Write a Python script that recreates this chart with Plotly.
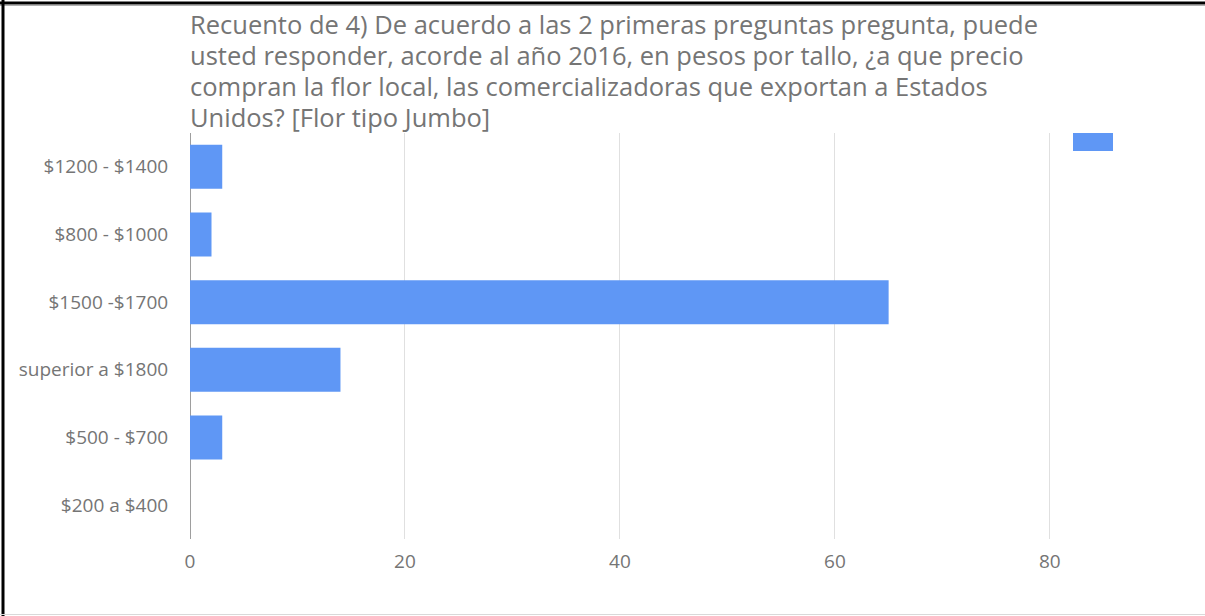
import plotly.graph_objects as go

# Survey answer counts per price range (pesos per stem)
categories = [
    "$1200 - $1400",
    "$800 - $1000",
    "$1500 -$1700",
    "superior a $1800",
    "$500 - $700",
    "$200 a $400",
]
counts = [3, 2, 65, 14, 3, 0]
x_ticks = [0, 20, 40, 60, 80]

title_lines = [
    "Recuento de 4) De acuerdo a las 2 primeras preguntas pregunta, puede",
    "usted responder, acorde al año 2016, en pesos por tallo, ¿a que precio",
    "compran la flor local, las comercializadoras que exportan a Estados",
    "Unidos? [Flor tipo Jumbo]",
]

W, H = 1205, 616
L, R, T, B = 190, 153, 133, 77
PW, PH = W - L - R, H - T - B

BLUE = "#5f97f5"
TEXT = "#757575"
FONT = "Open Sans, Roboto, Arial, sans-serif"


def px_x(px):
    return (px - L) / PW


def px_y(py):
    return (H - B - py) / PH


fig = go.Figure(
    go.Bar(
        x=counts,
        y=categories,
        orientation="h",
        marker=dict(color=BLUE, line=dict(width=0)),
        name="Recuento",
        showlegend=False,
    )
)

annotations = []
for i, line in enumerate(title_lines):
    annotations.append(
        dict(
            text=line,
            xref="paper",
            yref="paper",
            x=px_x(188),
            y=px_y(24 + i * 31),
            xanchor="left",
            yanchor="middle",
            showarrow=False,
            font=dict(family=FONT, size=25.5, color=TEXT),
        )
    )

shapes = [
    # legend swatch
    dict(type="rect", xref="paper", yref="paper",
         x0=px_x(1073), x1=px_x(1113), y0=px_y(151), y1=px_y(133),
         fillcolor=BLUE, line=dict(width=0)),
    # frame
    dict(type="line", xref="paper", yref="paper",
         x0=px_x(0), x1=px_x(W), y0=px_y(3), y1=px_y(3),
         line=dict(color="black", width=3)),
    dict(type="line", xref="paper", yref="paper",
         x0=px_x(0), x1=px_x(W), y0=px_y(5.5), y1=px_y(5.5),
         line=dict(color="#b0b0b0", width=1)),
    dict(type="line", xref="paper", yref="paper",
         x0=px_x(3), x1=px_x(3), y0=px_y(0), y1=px_y(H),
         line=dict(color="black", width=3)),
    dict(type="line", xref="paper", yref="paper",
         x0=px_x(0), x1=px_x(W), y0=px_y(614.5), y1=px_y(614.5),
         line=dict(color="#d9d9d9", width=1)),
]

fig.update_layout(
    width=W,
    height=H,
    margin=dict(l=L, r=R, t=T, b=B, pad=0),
    paper_bgcolor="white",
    plot_bgcolor="white",
    bargap=0.35,
    font=dict(family=FONT, color=TEXT),
    annotations=annotations,
    shapes=shapes,
    xaxis=dict(
        range=[0, 80.2],
        tickvals=x_ticks,
        showgrid=True,
        gridcolor="#e0e0e0",
        gridwidth=1,
        zeroline=True,
        zerolinecolor="#9e9e9e",
        zerolinewidth=1,
        showline=False,
        ticks="outside",
        ticklen=5,
        tickcolor="rgba(0,0,0,0)",
        tickfont=dict(family=FONT, size=19, color=TEXT),
        fixedrange=True,
    ),
    yaxis=dict(
        categoryorder="array",
        categoryarray=categories,
        autorange="reversed",
        showgrid=False,
        zeroline=False,
        showline=False,
        ticks="outside",
        ticklen=17,
        tickcolor="rgba(0,0,0,0)",
        tickfont=dict(family=FONT, size=19, color=TEXT),
        fixedrange=True,
    ),
)

fig.write_html("out.html", config={"displayModeBar": False})
